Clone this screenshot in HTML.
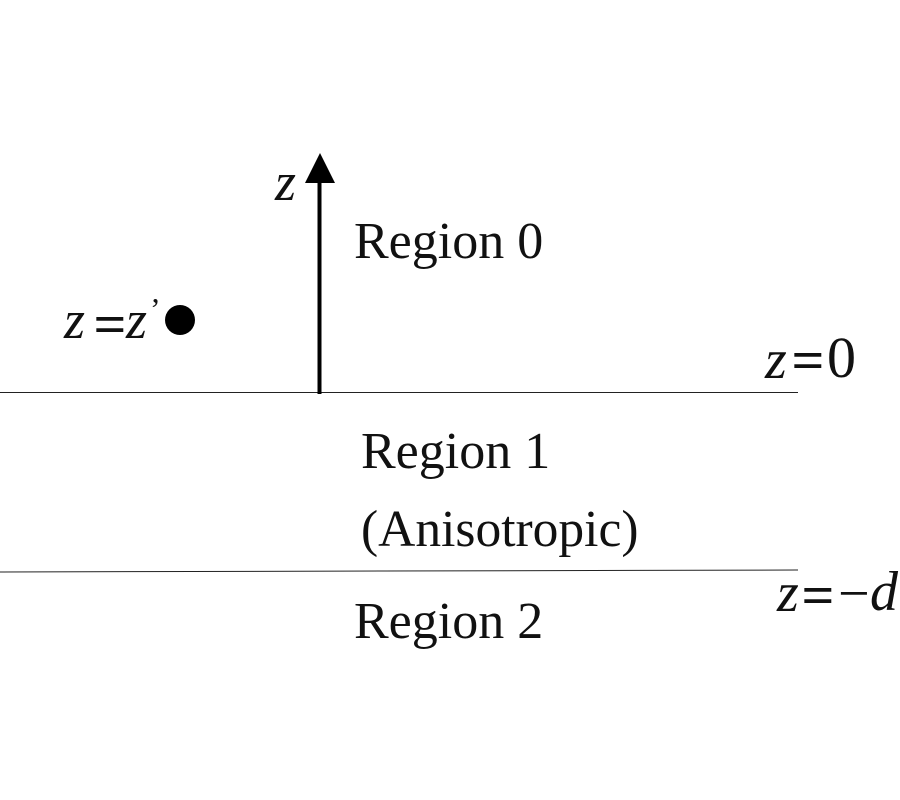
<!DOCTYPE html>
<html>
<head>
<meta charset="utf-8">
<style>
html,body{margin:0;padding:0;background:#fff;}
svg{display:block;}
text{font-family:"Liberation Serif",serif;fill:#111;}
.eq{stroke:#111;stroke-width:.9;}
</style>
</head>
<body>
<svg width="900" height="800" viewBox="0 0 900 800" xmlns="http://www.w3.org/2000/svg">
<rect width="900" height="800" fill="#fff"/>
<line x1="0" y1="392.500" x2="798" y2="392.500" stroke="#222" stroke-width="1"/>
<line x1="0" y1="572" x2="798" y2="570" stroke="#222" stroke-width="1"/>
<line x1="319.500" y1="394" x2="319.500" y2="180" stroke="#000" stroke-width="4"/>
<polygon points="320,153 305,183 335,183" fill="#000"/>
<circle cx="180" cy="320" r="15" fill="#000"/>
<text x="275" y="200" font-size="54" font-style="italic">z</text>
<text x="354" y="258" font-size="52">Region 0</text>
<text x="64" y="338" font-size="54" font-style="italic">z</text>
<text x="94" y="343" font-size="56" class="eq">=</text>
<text x="126" y="338" font-size="54" font-style="italic">z</text>
<text x="150" y="320" font-size="32">’</text>
<text x="765" y="378" font-size="56" font-style="italic">z</text>
<text x="792" y="379" font-size="56" class="eq">=</text>
<text x="827" y="377" font-size="58">0</text>
<text x="361" y="468" font-size="52">Region 1</text>
<text x="361" y="546" font-size="51.500">(Anisotropic)</text>
<text x="354" y="638" font-size="52">Region 2</text>
<text x="777" y="611" font-size="56" font-style="italic">z</text>
<text x="802" y="614" font-size="56" class="eq">=</text>
<text x="838" y="612" font-size="56">−</text>
<text x="870" y="610" font-size="56" font-style="italic">d</text>
</svg>
</body>
</html>
